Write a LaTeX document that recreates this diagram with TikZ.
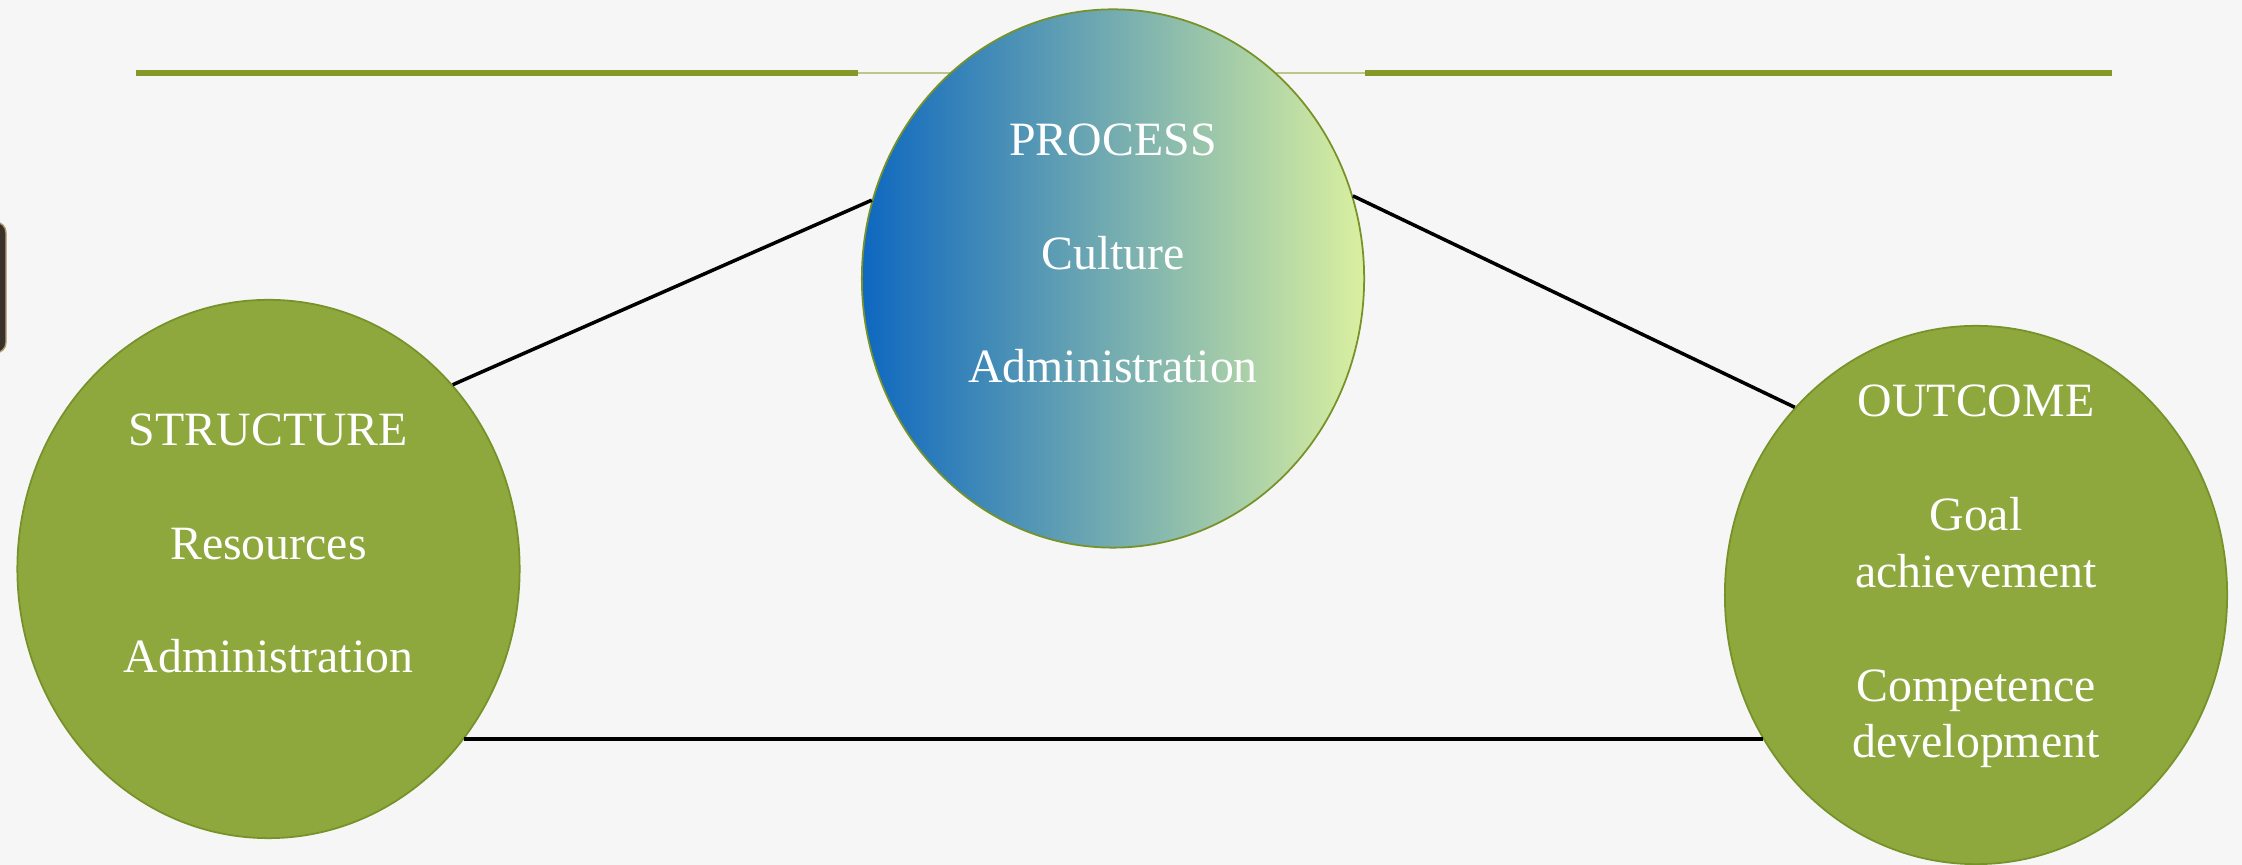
\documentclass[tikz,border=0pt]{standalone}
\usepackage{fontspec}
\setmainfont{Liberation Serif}
\usepackage{tikz}
\usetikzlibrary{shapes.geometric}

\definecolor{paper}{RGB}{246,246,246}
\definecolor{ballgreen}{RGB}{142,168,62}
\definecolor{ringgreen}{RGB}{118,146,40}
\definecolor{rulegreen}{RGB}{134,152,40}
\definecolor{pblue}{RGB}{14,104,192}
\definecolor{pmid}{RGB}{145,184,172}
\definecolor{pyellow}{RGB}{218,240,160}
\definecolor{tabfill}{RGB}{58,50,42}
\definecolor{tabedge}{RGB}{175,155,115}

\tikzset{
  ball/.style={ellipse, draw=ringgreen, line width=0.5pt, inner sep=0pt,
    minimum width=5.02cm, minimum height=5.38cm},
  lbl/.style={text=white, align=center, anchor=base,
    font=\fontsize{13.6}{16.2}\selectfont},
  link/.style={draw=black, line width=1pt}
}

\begin{document}
\begin{tikzpicture}[x=0.01cm,y=-0.01cm]
\useasboundingbox (0,0) rectangle (2242,865);
\clip (0,0) rectangle (2242,865);
\fill[paper] (0,0) rectangle (2242,865);

% tab at the left edge
\draw[tabedge, fill=tabfill, rounded corners=3pt] (-20,222) rectangle (6,353);

% top rule
\coordinate (r1) at (136,73);
\coordinate (r2) at (858,73);
\coordinate (r3) at (1365,73);
\coordinate (r4) at (2112,73);
\draw[rulegreen!55, line width=0.7pt] (r2) -- (r3);
\draw[rulegreen, line width=1.5pt] (r1) -- (r2) (r3) -- (r4);

\node[ball, fill=ballgreen] (S) at (268.5,569) {};
\node[ball, left color=pblue, middle color=pmid, right color=pyellow] (P) at (1113,278.5) {};
\node[ball, fill=ballgreen] (O) at (1976,595) {};

% base anchor sits on the last line
\node[lbl] (St) at (268.5,673) {STRUCTURE\\[16.2pt]Resources\\[16.2pt]Administration};
\node[lbl] (Pt) at (1113,383) {PROCESS\\[16.2pt]Culture\\[16.2pt]Administration};
\node[lbl] (Ot) at (1976,758) {OUTCOME\\[16.2pt]Goal\\achievement\\[16.2pt]Competence\\development};

\draw[link] (S.45) -- (P.162);
\draw[link] (P.19) -- (O.134);
\draw[link] (S.-41) -- (S.-41 -| O.214);
\end{tikzpicture}
\end{document}
